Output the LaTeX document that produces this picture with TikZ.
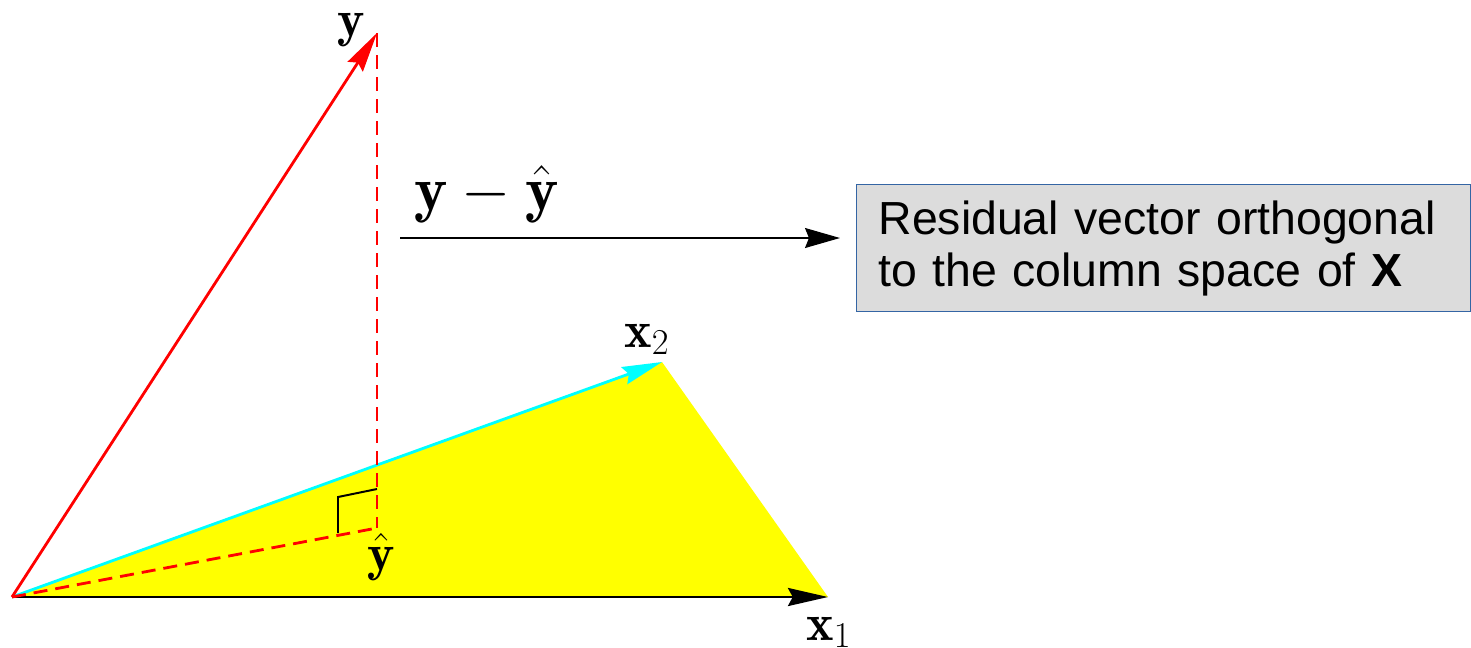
\RequirePackage{fix-cm}
\documentclass[tikz,border=0pt]{standalone}
\usepackage{fontspec}
\setsansfont{Liberation Sans}
\usetikzlibrary{arrows.meta}
\definecolor{boxgray}{RGB}{220,220,220}
\definecolor{boxblue}{RGB}{52,101,164}
\definecolor{planeyellow}{RGB}{255,255,0}
\definecolor{veccyan}{RGB}{0,255,255}
\definecolor{vecred}{RGB}{255,0,0}
\begin{document}
\begin{tikzpicture}[x=0.025cm, y=-0.025cm,
  vec/.style={line width=2pt, -{Stealth[length=1cm, width=0.45cm, inset=0.12cm]}},
  proj/.style={vecred, line width=2pt, dash pattern=on 0.35cm off 0.2cm},
  lbl/.style={inner sep=0pt, font=\fontsize{37}{44}\selectfont},
  note/.style={draw=boxblue, fill=boxgray, line width=0.8pt, anchor=north west, minimum width=15.35cm, minimum height=3.175cm, text width=14.25cm, inner xsep=0.55cm, align=left, font=\sffamily\fontsize{33}{37}\selectfont}]
\useasboundingbox (0,0) rectangle (1471,647);
\coordinate (o) at (12,597);
\coordinate (x1) at (828,597);
\coordinate (x2) at (662,362);
\coordinate (y) at (377,33);
\coordinate (yh) at (377,528);
\coordinate (r) at (400,238);
% plane spanned by x1 and x2
\fill[planeyellow] (o) -- (x1) -- (x2) -- cycle;
\draw[vec, veccyan] (o) -- (x2);
\draw[vec, black] (o) -- (x1);
\draw[vec, vecred] (o) -- (y);
\draw[proj] (o) -- (yh);
\draw[proj] (y) -- (yh);
% right angle mark
\draw[line width=1.4pt] (377,489) -- (338,497) -- (338,533);
\node[lbl, anchor=base] (ylab) at (351,36) {$\mathbf{y}$};
\node[lbl, anchor=base] (yhlab) at (381,570) {$\hat{\mathbf{y}}$};
\node[lbl, anchor=base west] (x1lab) at (806,640) {$\mathbf{x}_1$};
\node[lbl, anchor=base west] (x2lab) at (624,347) {$\mathbf{x}_2$};
\node[lbl, anchor=base west, font=\fontsize{45}{54}\selectfont] (res) at (414,210) {$\mathbf{y}-\hat{\mathbf{y}}$};
\node[note] (note) at (856,184) {Residual vector orthogonal\\to the column space of \textbf{X}};
\draw[line width=0.9pt, -{Stealth[length=0.875cm, width=0.5cm, inset=0.1cm]}, shorten >=0.4cm] (r) -- (r -| note.west);
\end{tikzpicture}
\end{document}
